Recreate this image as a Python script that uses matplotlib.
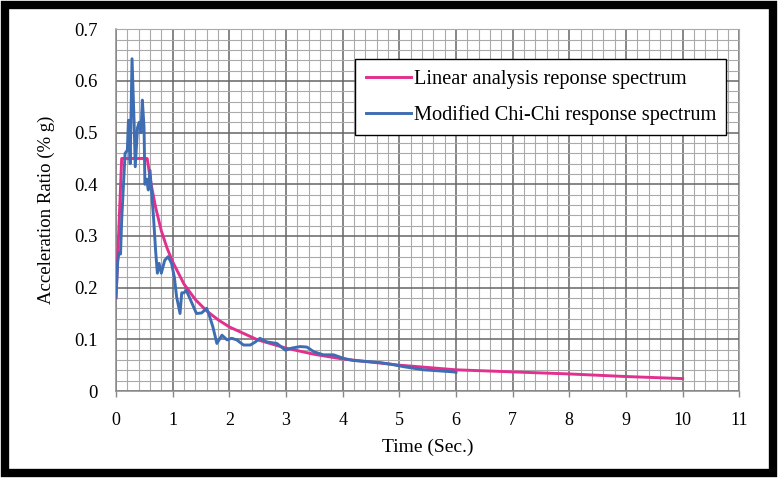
from matplotlib import use as mplUse
mplUse('Agg')
from matplotlib import pyplot as plt
from matplotlib.patches import Rectangle
from matplotlib.ticker import MultipleLocator
import numpy as np

# linear analysis response spectrum (pink)
linear_t = [0.0, 0.03, 0.06, 0.1, 0.2, 0.3, 0.4, 0.55, 0.62, 0.7, 0.8, 0.9, 1.0,
            1.2, 1.4, 1.6, 1.8, 2.0, 2.5, 3.0, 3.5, 4.0, 5.0, 6.0, 7.0, 8.0, 9.0, 10.0]
linear_sa = [0.18, 0.26, 0.34, 0.45, 0.45, 0.45, 0.45, 0.45, 0.40, 0.355, 0.31, 0.277, 0.25,
             0.207, 0.177, 0.155, 0.138, 0.124, 0.099, 0.083, 0.071, 0.062, 0.05, 0.041,
             0.037, 0.033, 0.028, 0.024]

# modified Chi-Chi response spectrum (blue)
chichi_t = [0.0, 0.03, 0.05, 0.08, 0.1, 0.13, 0.16, 0.2, 0.22, 0.25, 0.283, 0.32, 0.34,
            0.38, 0.41, 0.44, 0.465, 0.495, 0.51, 0.54, 0.57, 0.6, 0.63, 0.66, 0.7, 0.73,
            0.76, 0.8, 0.86, 0.92, 0.98, 1.03, 1.07, 1.13, 1.16, 1.2, 1.24, 1.3, 1.36,
            1.42, 1.51, 1.6, 1.65, 1.71, 1.78, 1.87, 1.96, 2.04, 2.13, 2.25, 2.37, 2.46,
            2.54, 2.66, 2.84, 2.99, 3.1, 3.25, 3.37, 3.49, 3.66, 3.84, 4.02, 4.19, 4.43,
            4.66, 4.84, 5.08, 5.43, 5.7, 5.96, 6.0]
chichi_sa = [0.182, 0.25, 0.267, 0.265, 0.33, 0.395, 0.46, 0.466, 0.524, 0.44, 0.643, 0.518,
             0.434, 0.51, 0.52, 0.50, 0.563, 0.51, 0.40, 0.41, 0.389, 0.427, 0.382, 0.34,
             0.27, 0.228, 0.247, 0.228, 0.253, 0.26, 0.247, 0.22, 0.182, 0.15, 0.19, 0.19,
             0.195, 0.18, 0.165, 0.15, 0.151, 0.16, 0.145, 0.124, 0.092, 0.108, 0.099,
             0.102, 0.099, 0.089, 0.089, 0.095, 0.102, 0.095, 0.092, 0.079, 0.083, 0.086,
             0.085, 0.076, 0.07, 0.07, 0.063, 0.059, 0.057, 0.055, 0.052, 0.047, 0.041,
             0.039, 0.037, 0.036]

x_ticks = list(range(0, 12))
y_ticks = [0, 0.1, 0.2, 0.3, 0.4, 0.5, 0.6, 0.7]
y_tick_labels = ['0', '0.1', '0.2', '0.3', '0.4', '0.5', '0.6', '0.7']

PINK = '#E2308E'
BLUE = '#3F6DB3'

plt.rcParams['font.family'] = ['Liberation Serif', 'DejaVu Serif']

fig = plt.figure(figsize=(7.78, 4.78), dpi=100)
ax = fig.add_axes([116 / 778, 1 - 391 / 478, (739.3 - 116) / 778, (391 - 29.3) / 478])

ax.plot(linear_t, linear_sa, color=PINK, lw=2.1, label='Linear analysis reponse spectrum', zorder=3)
ax.plot(chichi_t, chichi_sa, color=BLUE, lw=2.1, label='Modified Chi-Chi response spectrum', zorder=4)

ax.set_xlim(0, 11)
ax.set_ylim(0, 0.7)
ax.set_xticks(x_ticks)
ax.set_yticks(y_ticks)
ax.set_yticklabels(y_tick_labels)
ax.xaxis.set_minor_locator(MultipleLocator(0.2))
ax.yaxis.set_minor_locator(MultipleLocator(0.02))

ax.grid(which='major', color='#666666', lw=1.1, zorder=1)
ax.grid(which='minor', color='#aaaaaa', lw=0.8, zorder=1)
ax.set_axisbelow(True)

ax.tick_params(axis='x', which='major', length=4, width=1, color='#888888', pad=11, labelsize=13)
ax.tick_params(axis='x', which='minor', length=0)
ax.tick_params(axis='y', which='both', length=0, pad=13, labelsize=13.5)

for side in ['top', 'right']:
    ax.spines[side].set_color('#aaaaaa')
    ax.spines[side].set_linewidth(0.8)
for side in ['left', 'bottom']:
    ax.spines[side].set_color('#8a8a8a')
    ax.spines[side].set_linewidth(1.1)

ax.set_xlabel('Time (Sec.)', fontsize=14, labelpad=7)
ax.set_ylabel('Acceleration Ratio (% g)', fontsize=13.5, labelpad=14)

leg = ax.legend(loc='upper right', bbox_to_anchor=(0.979, 0.917), borderaxespad=0,
                fontsize=14.7, frameon=True, fancybox=False, framealpha=1,
                handlelength=2.2, handletextpad=0.15, labelspacing=0.8,
                borderpad=0.5)
leg.get_frame().set_edgecolor('black')
leg.get_frame().set_linewidth(1.0)

# thick black frame around the whole picture
fig.patches.append(Rectangle((5 / 778, 5 / 478), 768 / 778, 468 / 478,
                             transform=fig.transFigure, fill=False,
                             edgecolor='black', lw=6, zorder=10))

fig.savefig('out.png', dpi=100)
